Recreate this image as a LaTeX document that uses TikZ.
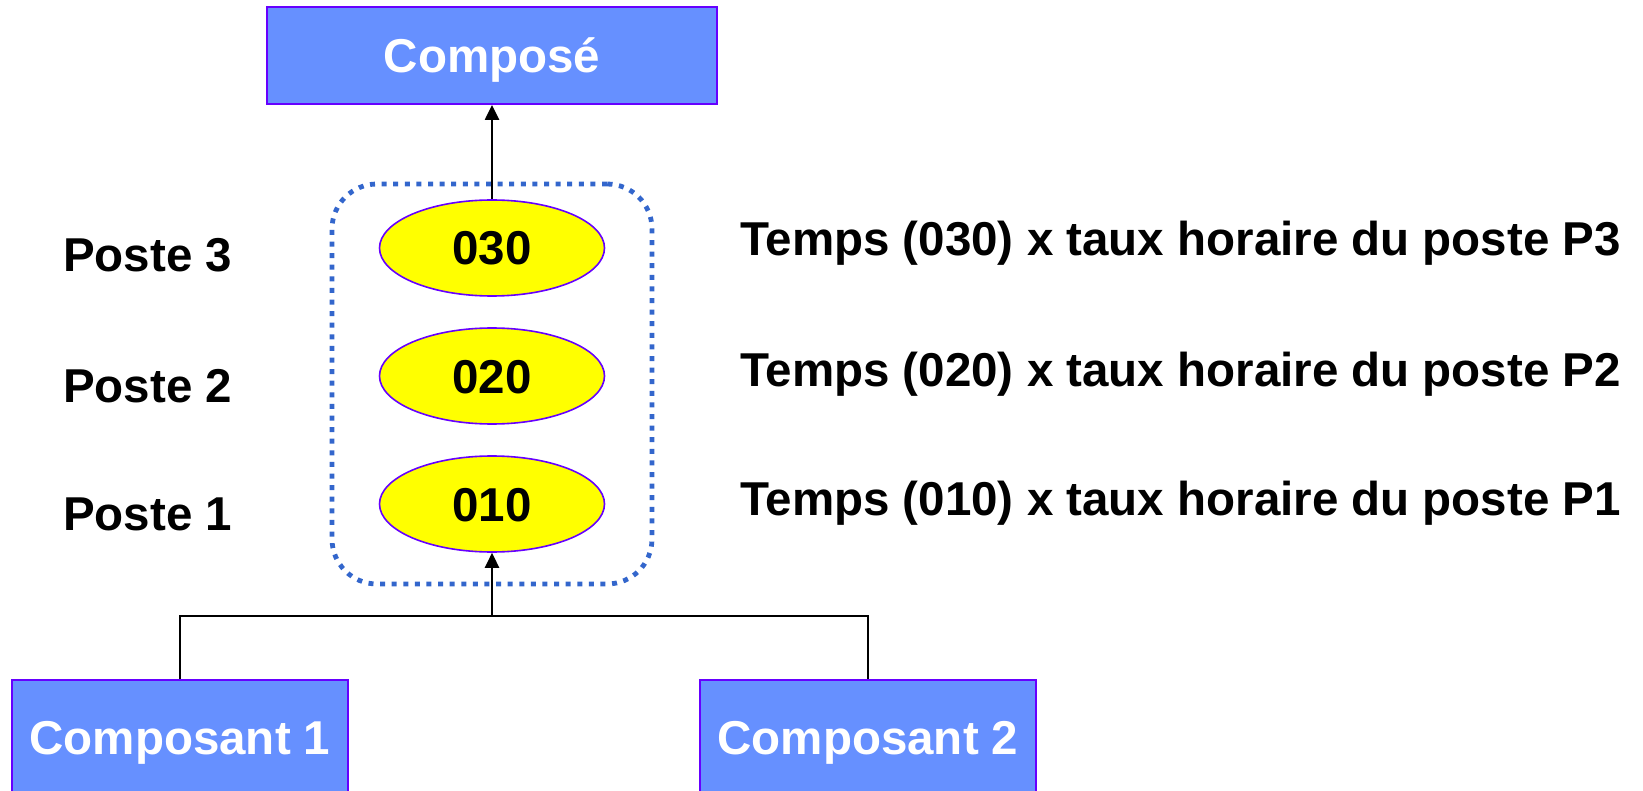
\documentclass[tikz,border=0pt]{standalone}
\usepackage{fontspec}
\setmainfont{Liberation Sans}
\usetikzlibrary{shapes.geometric,arrows.meta}
\definecolor{boxfill}{RGB}{102,144,255}
\definecolor{boxdraw}{RGB}{102,0,255}
\definecolor{dotblue}{RGB}{51,102,204}
\definecolor{ellfill}{RGB}{255,255,0}
\begin{document}
\begin{tikzpicture}[x=1pt,y=-1pt,
  every node/.style={font=\fontsize{47.5}{57}\selectfont\bfseries},
  bluebox/.style={draw=boxdraw, line width=2pt, fill=boxfill, text=white,
    inner sep=0pt, text height=34pt, text depth=0pt},
  station/.style={ellipse, draw=boxdraw, line width=1.6pt, fill=ellfill,
    minimum width=225pt, minimum height=96pt, inner sep=0pt, text height=34pt, text depth=0pt},
  label/.style={inner sep=0pt, anchor=base west},
  group/.style={draw=dotblue, line width=4.8pt, dash pattern=on 5pt off 6.6pt,
    rounded corners=45pt, minimum width=320pt, minimum height=400pt, inner sep=0pt},
  conn/.style={line width=2.6pt, black},
  arr/.style={conn, -{Triangle[length=15pt,width=14pt]}}
]
\useasboundingbox (0,0) rectangle (1643,791);
\fill[white] (0,0) rectangle (1643,791);

\node[group] (grp) at (492,384) {};

\node[bluebox, minimum width=450pt, minimum height=97pt] (comp) at (492,55.5) {Composé};
\node[bluebox, minimum width=336pt, minimum height=114pt] (c1) at (180,737) {Composant 1};
\node[bluebox, minimum width=336pt, minimum height=114pt] (c2) at (868,737) {Composant 2};

\node[station] (e3) at (492,248) {030};
\node[station] (e2) at (492,376) {020};
\node[station] (e1) at (492,504) {010};

\node[label] (p3) at (63,272) {Poste 3};
\node[label] (p2) at (63,402) {Poste 2};
\node[label] (p1) at (63,530) {Poste 1};

\node[label] (t3) at (740,256) {Temps (030) x taux horaire du poste P3};
\node[label] (t2) at (740,386) {Temps (020) x taux horaire du poste P2};
\node[label] (t1) at (740,515) {Temps (010) x taux horaire du poste P1};

\coordinate (j) at (492,616);
\draw[conn] (c1.north) |- (j) -| (c2.north);
\draw[arr] (j) -- (e1.south);
\draw[arr] (e3.north) -- (comp.south);
\end{tikzpicture}
\end{document}
